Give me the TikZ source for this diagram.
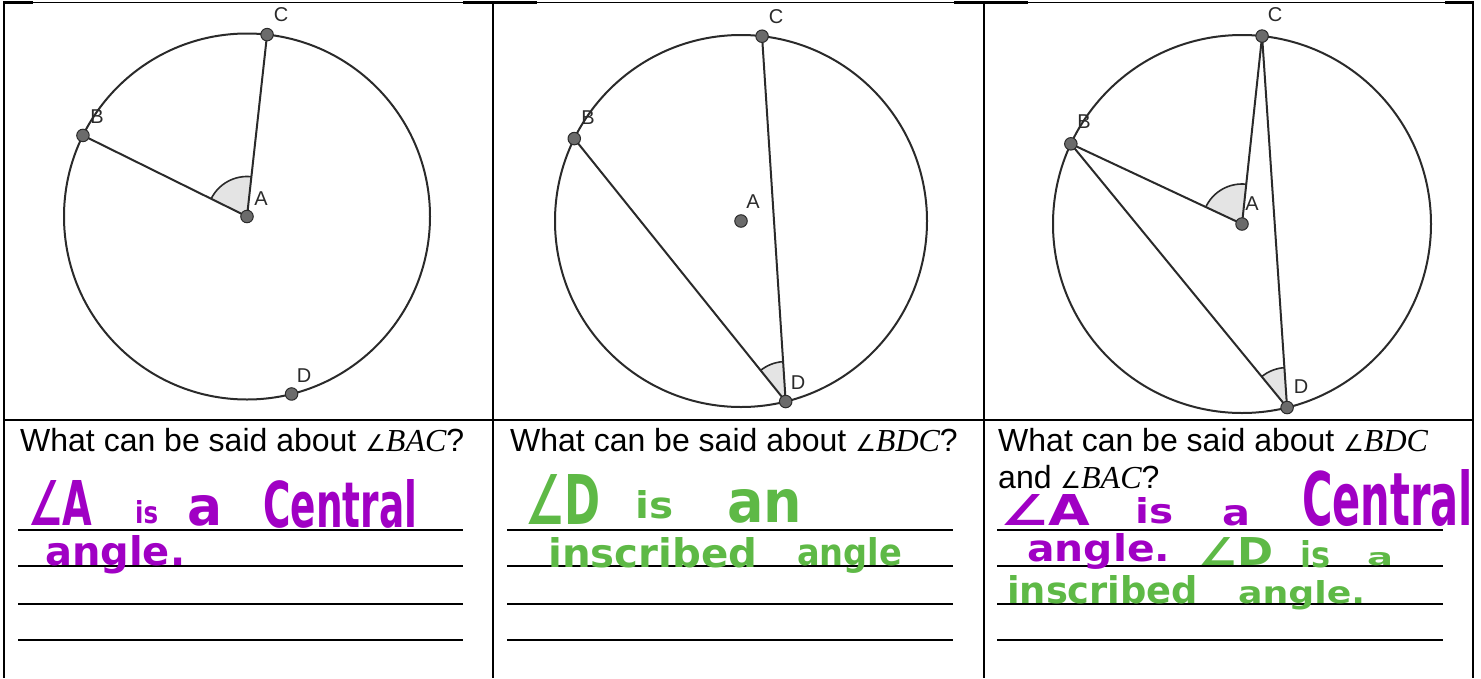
\documentclass[tikz,border=0pt]{standalone}
\usepackage{fontspec}
\setmainfont{Liberation Sans}
\newfontfamily\hand{DejaVu Sans}
\newfontfamily\symf{DejaVu Sans}
\newfontfamily\serifit{Liberation Serif}[UprightFont=*-Italic]
\usetikzlibrary{angles,calc}
\pgfdeclarelayer{bg}
\pgfsetlayers{bg,main}
\definecolor{hwpurple}{HTML}{A000C4}
\definecolor{hwgreen}{HTML}{5EB946}
\definecolor{ink}{HTML}{2A2A2A}
\definecolor{ptfill}{HTML}{6B6B6B}
\definecolor{angfill}{HTML}{E4E4E4}
% handwriting word, fitted to its measured width and height
\newcommand\hw[6]{\node[hwnode,text=#2] (#1) at (#3) {\resizebox{#4pt}{#5pt}{\hand\bfseries #6}};}
\newcommand\ang[1]{{\symf\scalebox{0.72}{∠}}{\serifit #1}}
\begin{document}
\begin{tikzpicture}[x=1pt,y=-1pt,
  geo/.style={line width=2pt, draw=ink},
  gpt/.style={circle, fill=ptfill, draw=ink, line width=1pt, minimum size=12.5pt, inner sep=0pt},
  glab/.style={font=\fontsize{20}{22}\selectfont, text=ink, inner sep=0pt},
  angmark/.style={fill=angfill, draw=ink, line width=1.6pt, angle radius=40pt},
  q/.style={font=\fontsize{32}{37}\selectfont, anchor=base west, inner sep=0pt},
  rule/.style={line width=2.6pt, draw=black},
  hwnode/.style={anchor=base west, inner sep=0pt},
  grid/.style={line width=2pt, draw=black}]
\useasboundingbox (0,0) rectangle (1481,678);

% table
\draw[grid] (4,2) -- (4,678);
\draw[grid] (493,2) -- (493,678);
\draw[grid] (984,2) -- (984,678);
\draw[grid] (1473,2) -- (1473,678);
\draw[grid] (3,420) -- (1474,420);
\draw[line width=1.2pt] (3,2.5) -- (1474,2.5);
\draw[line width=2.6pt] (3,2.5) -- (33,2.5) (463,2.5) -- (537,2.5) (954,2.5) -- (1028,2.5) (1445,2.5) -- (1474,2.5);

% ---------- diagram 1
\coordinate (O1) at (247,216.5);
\node[gpt] (A1) at (O1) {};
\node[gpt] (B1) at ($(O1)+(-153.7:183)$) {};
\node[gpt] (C1) at ($(O1)+(-83.7:183)$) {};
\node[gpt] (D1) at ($(O1)+(75.9:183)$) {};
\begin{pgfonlayer}{bg}
\draw[geo] (O1) circle[radius=183];
\pic[angmark] {angle = C1--A1--B1};
\draw[geo] (B1.center) -- (A1.center) -- (C1.center);
\end{pgfonlayer}
\node[glab] (lA1) at (261,199) {A};
\node[glab] (lB1) at (97,117) {B};
\node[glab] (lC1) at (281,15) {C};
\node[glab] (lD1) at (304,376) {D};

% ---------- diagram 2
\coordinate (O2) at (741,221);
\node[gpt] (A2) at (O2) {};
\node[gpt] (B2) at ($(O2)+(-153.7:186)$) {};
\node[gpt] (C2) at ($(O2)+(-83.5:186)$) {};
\node[gpt] (D2) at ($(O2)+(76.1:186)$) {};
\begin{pgfonlayer}{bg}
\draw[geo] (O2) circle[radius=186];
\pic[angmark] {angle = C2--D2--B2};
\draw[geo] (B2.center) -- (D2.center) -- (C2.center);
\end{pgfonlayer}
\node[glab] (lA2) at (753,202) {A};
\node[glab] (lB2) at (588,118) {B};
\node[glab] (lC2) at (776,17) {C};
\node[glab] (lD2) at (798,383) {D};

% ---------- diagram 3
\coordinate (O3) at (1242,224);
\node[gpt] (A3) at (O3) {};
\node[gpt] (B3) at ($(O3)+(-154.9:189)$) {};
\node[gpt] (C3) at ($(O3)+(-83.9:189)$) {};
\node[gpt] (D3) at ($(O3)+(76.2:189)$) {};
\begin{pgfonlayer}{bg}
\draw[geo] (O3) circle[radius=189];
\pic[angmark] {angle = C3--A3--B3};
\pic[angmark] {angle = C3--D3--B3};
\draw[geo] (B3.center) -- (A3.center) -- (C3.center);
\draw[geo] (B3.center) -- (D3.center) -- (C3.center);
\end{pgfonlayer}
\node[glab] (lA3) at (1252,204) {A};
\node[glab] (lB3) at (1084,122) {B};
\node[glab] (lC3) at (1275,15) {C};
\node[glab] (lD3) at (1301,387) {D};

% ---------- questions
\node[q] (q1) at (20,451) {What can be said about \ang{BAC}?};
\node[q] (q2) at (510,451) {What can be said about \ang{BDC}?};
\node[q] (q3) at (998,451) {What can be said about \ang{BDC}};
\node[q] (q3b) at (998,488) {and \ang{BAC}?};

% ---------- answer rules
\foreach \yy in {530,566,604,640}{
  \draw[rule] (18,\yy) -- (463,\yy);
  \draw[rule] (507,\yy) -- (953,\yy);
  \draw[rule] (997,\yy) -- (1443,\yy);
}

% ---------- handwriting, column 1
\hw{h1a}{hwpurple}{28,525}{64}{45}{∠A}
\hw{h1b}{hwpurple}{135,523}{23}{23}{is}
\hw{h1c}{hwpurple}{187,525}{35}{30}{a}
\hw{h1d}{hwpurple}{263,527}{154}{48}{Central}
\hw{h1e}{hwpurple}{45,565}{140}{30}{angle.}

% ---------- handwriting, column 2
\hw{h2a}{hwgreen}{525,524}{75}{50}{∠D}
\hw{h2b}{hwgreen}{635,518}{38}{28}{is}
\hw{h2c}{hwgreen}{727,522}{75}{33}{an}
\hw{h2d}{hwgreen}{548,567}{209}{30}{inscribed}
\hw{h2e}{hwgreen}{797,565}{105}{28}{angle}

% ---------- handwriting, column 3
\hw{h3a}{hwpurple}{1000,525}{90}{31}{∠A}
\hw{h3b}{hwpurple}{1135,523}{38}{26}{is}
\hw{h3c}{hwpurple}{1222,525}{28}{20}{a}
\hw{h3d}{hwpurple}{1302,525}{171}{56}{Central}
\hw{h3e}{hwpurple}{1027,561}{143}{28}{angle.}
\hw{h3f}{hwgreen}{1198,565}{75}{28}{∠D}
\hw{h3g}{hwgreen}{1300,567}{30}{27}{is}
\hw{h3h}{hwgreen}{1367,565}{26}{13}{a}
\hw{h3i}{hwgreen}{1007,603}{191}{28}{inscribed}
\hw{h3j}{hwgreen}{1238,603}{127}{23}{angle.}
\end{tikzpicture}
\end{document}
